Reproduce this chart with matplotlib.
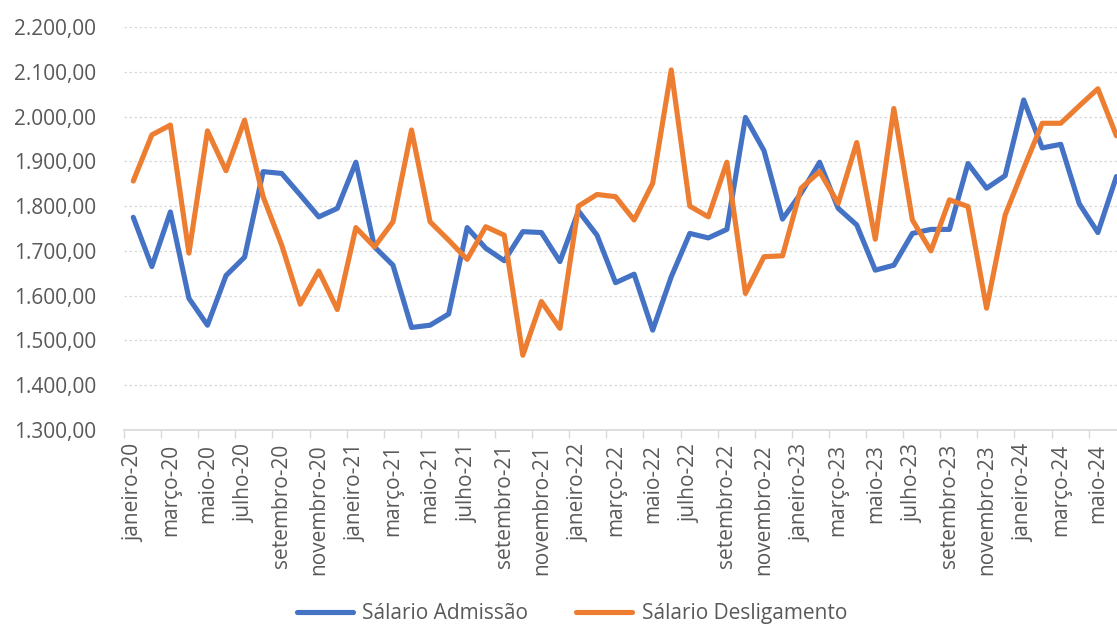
import matplotlib
matplotlib.use('Agg')
import matplotlib.pyplot as plt
from matplotlib.ticker import FuncFormatter, FixedLocator

meses = ['janeiro', 'fevereiro', 'março', 'abril', 'maio', 'junho', 'julho',
         'agosto', 'setembro', 'outubro', 'novembro', 'dezembro']
anos = ['20', '21', '22', '23', '24']
rotulos = [m + '-' + a for a in anos for m in meses][:54]

admissao = [1775, 1665, 1787, 1594, 1534, 1645, 1686, 1877, 1873, 1825,
            1776, 1795, 1898, 1709, 1668, 1529, 1534, 1559, 1752, 1706,
            1678, 1743, 1741, 1676, 1789, 1735, 1629, 1648, 1523, 1642,
            1739, 1729, 1748, 1998, 1924, 1771, 1829, 1898, 1795, 1758,
            1657, 1668, 1739, 1748, 1748, 1895, 1840, 1868, 2037, 1930,
            1938, 1805, 1741, 1866]
desligamento = [1856, 1959, 1981, 1695, 1968, 1879, 1992, 1821, 1713, 1581,
                1655, 1569, 1752, 1709, 1765, 1970, 1765, 1724, 1681, 1754,
                1735, 1467, 1587, 1527, 1800, 1826, 1821, 1769, 1851, 2104,
                1800, 1776, 1898, 1605, 1687, 1689, 1840, 1877, 1806, 1942,
                1726, 2018, 1769, 1700, 1814, 1799, 1572, 1780, 1884, 1985,
                1985, 2024, 2062, 1957]

cinza = '#595959'
fig = plt.figure(figsize=(11.17, 6.27), dpi=100)
# eixo passa um pouco da borda direita, como no recorte original
ax = fig.add_axes([124 / 1117, 197 / 627, 1001.7 / 1117, 403 / 627])

x = list(range(len(rotulos)))
ax.plot(x, admissao, color='#4472C4', lw=3.7, solid_joinstyle='round',
        solid_capstyle='round', label='Sálario Admissão', clip_on=False)
ax.plot(x, desligamento, color='#ED7D31', lw=3.7, solid_joinstyle='round',
        solid_capstyle='round', label='Sálario Desligamento', clip_on=False)

ax.set_xlim(-0.5, 53.5)
ax.set_ylim(1300, 2200)
ax.set_yticks(range(1300, 2201, 100))
ax.yaxis.set_major_formatter(FuncFormatter(
    lambda v, p: f'{v:,.2f}'.replace(',', 'X').replace('.', ',').replace('X', '.')))
ax.grid(axis='y', color='#d9d9d9', linestyle=(0, (2, 2)), lw=0.9)
ax.set_axisbelow(True)

ax.set_xticks(x[::2])
ax.set_xticklabels(rotulos[::2], rotation=90, ha='center', va='top')
ax.xaxis.set_minor_locator(FixedLocator([i - 0.5 for i in range(0, 56, 2)]))
ax.tick_params(axis='x', which='major', length=0, pad=10, labelsize=15, labelcolor=cinza)
ax.tick_params(axis='x', which='minor', length=5.5, width=1, color='#d9d9d9')
ax.tick_params(axis='y', length=0, pad=20, labelsize=15, labelcolor=cinza)

for s in ['top', 'right', 'left']:
    ax.spines[s].set_visible(False)
ax.spines['bottom'].set_color('#d9d9d9')
ax.spines['bottom'].set_linewidth(1.2)

for lab in ax.get_xticklabels() + ax.get_yticklabels():
    lab.set_fontfamily('Open Sans')

fig.legend(loc='lower center', bbox_to_anchor=(0.512, -0.025), ncol=2, frameon=False,
           handlelength=2.7, columnspacing=2.3, handletextpad=0.45,
           prop={'family': 'Open Sans', 'size': 15}, labelcolor=cinza)

plt.savefig('out.png', dpi=100)
